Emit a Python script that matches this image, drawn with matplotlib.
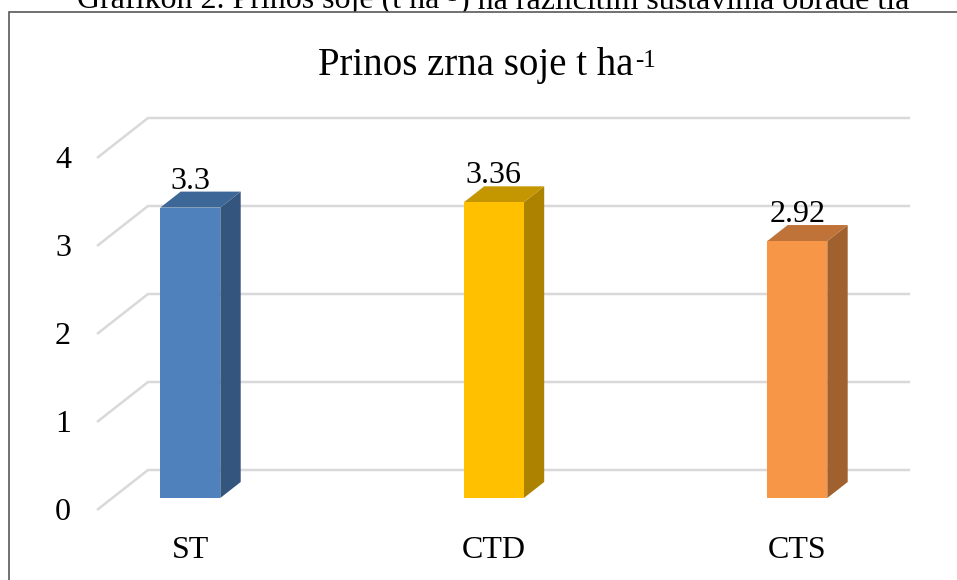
import matplotlib.pyplot as plt
from matplotlib.patches import Polygon, Rectangle

plt.rcParams['font.family'] = ['Liberation Serif', 'DejaVu Serif']

# --- podaci ---
categories = ['ST', 'CTD', 'CTS']
values = [3.3, 3.36, 2.92]
y_ticks = [0, 1, 2, 3, 4]

# boje (prednja strana, bok, vrh)
front_colors = ['#4F81BD', '#FFC000', '#F79646']
side_colors = ['#34557E', '#AD8200', '#A0612F']
top_colors = ['#3D6796', '#C49600', '#BF7339']

# --- "3D" geometrija u jedinicama podataka ---
DX = 51 / 303.5     # pomak dubine po x (kategorije)
DY = 40 / 88        # pomak dubine po y (vrijednosti)
HW = 30 / 303.5     # pola sirine stupca
D0, D1 = 0.3, 0.7   # prednja i straznja dubina stupca
FLOOR_L, FLOOR_R = -0.257, 2.254


def proj(x, y, d):
    return x + d * DX, y + d * DY


fig = plt.figure(figsize=(9.57, 5.8), dpi=100)
ax = fig.add_axes([0, 0, 1, 1], zorder=2)
ax.set_xlim(-175 / 303.5, 782 / 303.5)
ax.set_ylim(-70 / 88, 510 / 88)
ax.axis('off')

# okvir grafikona
fig.add_artist(Rectangle((9 / 957, -0.02), 1.0, 1 - 12 / 580 + 0.02,
                         transform=fig.transFigure, facecolor='white',
                         edgecolor='#595959', linewidth=1.2, zorder=1))

# pomocne linije
for v in y_ticks:
    ax.plot([FLOOR_L, FLOOR_L + DX, FLOOR_R + DX], [v, v + DY, v + DY],
            color='#D9D9D9', linewidth=1.8, solid_capstyle='butt', zorder=1)
    ax.annotate(str(v), xy=(-0.3427, v), xytext=(0, -2), textcoords='offset pixels',
                ha='right', va='center', fontsize=23)

# stupci
for i, v in enumerate(values):
    x0, x1 = i - HW, i + HW
    front = [proj(x0, 0, D0), proj(x1, 0, D0), proj(x1, v, D0), proj(x0, v, D0)]
    side = [proj(x1, 0, D0), proj(x1, 0, D1), proj(x1, v, D1), proj(x1, v, D0)]
    top = [proj(x0, v, D0), proj(x1, v, D0), proj(x1, v, D1), proj(x0, v, D1)]
    ax.add_patch(Polygon(side, closed=True, facecolor=side_colors[i], edgecolor='none', zorder=3))
    ax.add_patch(Polygon(top, closed=True, facecolor=top_colors[i], edgecolor='none', zorder=3))
    ax.add_patch(Polygon(front, closed=True, facecolor=front_colors[i], edgecolor='none', zorder=4))

    cx = i + D0 * DX
    ax.annotate(f'{v}', xy=(cx, v + D1 * DY), xytext=(0, 3), textcoords='offset pixels',
                ha='center', va='baseline', fontsize=23, zorder=5)
    ax.text(cx, -0.545, categories[i], ha='center', va='baseline', fontsize=23)

# naslov grafikona
title = fig.text(476 / 957, 1 - 75 / 580, 'Prinos zrna soje t ha', ha='center',
                 va='baseline', fontsize=28, zorder=3)
fig.add_artist(plt.Annotation('-1', xy=(1, 0), xycoords=title, xytext=(1, 17),
                              textcoords='offset pixels', ha='left', va='baseline',
                              fontsize=18, zorder=3))

# natpis iznad okvira (djelomicno odrezan)
cap1 = fig.text(77 / 957, 1 - 8 / 580, 'Grafikon 2. Prinos soje (t ha', ha='left',
                va='baseline', fontsize=23, zorder=0.5)
cap2 = fig.add_artist(plt.Annotation('-1', xy=(1, 0), xycoords=cap1, xytext=(1, 14),
                                     textcoords='offset pixels', ha='left', va='baseline',
                                     fontsize=15, zorder=0.5))
fig.add_artist(plt.Annotation(') na različitim sustavima obrade tla', xy=(1, 0),
                              xycoords=(cap2, cap1), xytext=(1, 0),
                              textcoords='offset pixels', ha='left', va='bottom',
                              fontsize=23, zorder=0.5))

fig.savefig('out.png', dpi=100)
